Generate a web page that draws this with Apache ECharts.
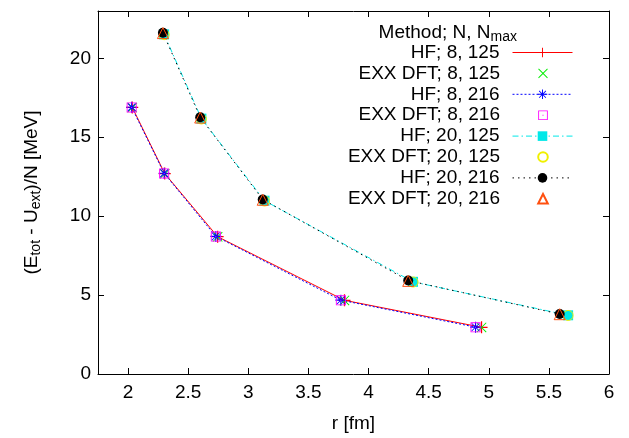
<!DOCTYPE html>
<html><head><meta charset="utf-8">
<script src="https://cdn.jsdelivr.net/npm/echarts@6/dist/echarts.min.js"></script>
<style>html,body{margin:0;padding:0;background:#fff}#c{width:629px;height:438px}</style>
</head><body><div id="c"></div>
<script>
// ---- data ----
const seriesNames = ['HF; 8, 125','EXX DFT; 8, 125','HF; 8, 216','EXX DFT; 8, 216','HF; 20, 125','EXX DFT; 20, 125','HF; 20, 216','EXX DFT; 20, 216'];
const r_8_125   = [2.035, 2.305, 2.745, 3.80, 4.94];
const hf_8_125  = [16.89, 12.70, 8.70, 4.67, 2.96];
const exx_8_125 = [16.88, 12.69, 8.69, 4.66, 2.95];
const r_8_216   = [2.03, 2.30, 2.73, 3.77, 4.89];
const hf_8_216  = [16.90, 12.72, 8.72, 4.68, 2.97];
const exx_8_216 = [16.89, 12.71, 8.71, 4.67, 2.96];
const r_20_125   = [2.30, 2.61, 3.135, 4.37, 5.66];
const hf_20_125  = [21.52, 16.18, 10.98, 5.84, 3.72];
const exx_20_125 = [21.50, 16.16, 10.96, 5.83, 3.71];
const r_20_216   = [2.29, 2.60, 3.12, 4.33, 5.59];
const hf_20_216  = [21.62, 16.27, 11.06, 5.92, 3.80];
const exx_20_216 = [21.60, 16.25, 11.04, 5.90, 3.79];
const xTicks = [2, 2.5, 3, 3.5, 4, 4.5, 5, 5.5, 6];
const yTicks = [0, 5, 10, 15, 20];

const FONT = 'Liberation Sans';
const FS = 19;
const pair = (xs, ys) => xs.map((x, i) => [x, ys[i]]);

const SYM_PLUS = 'path://M-0.6,-6H0.6V6H-0.6Z M-6,-0.6H6V0.6H-6Z';
const SYM_CROSS = 'path://M-6,-5.2L-5.2,-6L6,5.2L5.2,6Z M6,-5.2L-5.2,6L-6,5.2L5.2,-6Z';
const SYM_STAR = 'path://M-0.6,-6H0.6V6H-0.6Z M-6,-0.6H6V0.6H-6Z M-4.6,-3.9L-3.9,-4.6L4.6,3.9L3.9,4.6Z M4.6,-3.9L-3.9,4.6L-4.6,3.9L3.9,-4.6Z';
const SYM_OSQ = 'path://M-5,-5H5V5H-5Z M-4.1,-4.1V4.1H4.1V-4.1Z M-0.5,-0.5H0.5V0.5H-0.5Z';

const seriesDefs = [
  {data: pair(r_8_125, hf_8_125), color: '#ff0000', symbol: SYM_PLUS, size: 12, line: 'solid'},
  {data: pair(r_8_125, exx_8_125), color: '#00ee00', symbol: SYM_CROSS, size: 10, line: null},
  {data: pair(r_8_216, hf_8_216), color: '#0000ff', symbol: SYM_STAR, size: 11, line: [2, 2]},
  {data: pair(r_8_216, exx_8_216), color: '#ff00ff', symbol: SYM_OSQ, size: 10, line: null},
  {data: pair(r_20_125, hf_20_125), color: '#00e8e8', symbol: 'rect', size: 10, line: [6, 3, 1.5, 3]},
  {data: pair(r_20_125, exx_20_125), color: '#f0f000', symbol: 'circle', size: 10, line: null, open: true},
  {data: pair(r_20_216, hf_20_216), color: '#000000', symbol: 'circle', size: 10, line: [1.5, 4]},
  {data: pair(r_20_216, exx_20_216), color: '#ff5010', symbol: 'triangle', size: 11, line: null, open: true}
];

const series = seriesDefs.map((d, i) => ({
  name: seriesNames[i],
  type: 'line',
  data: d.data,
  symbol: d.symbol,
  symbolSize: d.size,
  showSymbol: true,
  animation: false,
  lineStyle: d.line ? {color: d.color, width: 1, type: d.line} : {width: 0, opacity: 0},
  itemStyle: d.open ? {color: 'rgba(0,0,0,0)', borderColor: d.color, borderWidth: 1} : {color: d.color, borderWidth: 0},
  emphasis: {disabled: true}
}));

const legends = seriesNames.map((n, i) => {
  const lg = {
    data: [n],
    orient: 'vertical',
    right: 56,
    top: 43 + i * 20.9,
    padding: 0,
    align: 'right',
    itemWidth: 60,
    itemHeight: 12,
    selectedMode: false,
    textStyle: {fontFamily: FONT, fontSize: FS, color: '#000', padding: [0, 8, 0, 0]}
  };
  if (seriesDefs[i].line) lg.lineStyle = {width: 1};
  return lg;
});

const axisCommon = {
  type: 'value',
  axisLine: {show: true, onZero: false, lineStyle: {color: '#000', width: 1}},
  axisTick: {show: true, inside: true, length: 6, lineStyle: {color: '#000'}},
  splitLine: {show: false}
};

const chart = echarts.init(document.getElementById('c'), null, {renderer: 'canvas'});
chart.setOption({
  animation: false,
  backgroundColor: '#fff',
  title: {
    text: '{a|Method; N, N}{s|max}',
    right: 112, top: 22, padding: 0,
    textStyle: {fontWeight: 'normal', rich: {
      a: {fontFamily: FONT, fontSize: FS, fontWeight: 'normal', color: '#000', lineHeight: 22},
      s: {fontFamily: FONT, fontSize: 14, fontWeight: 'normal', color: '#000', lineHeight: 12, verticalAlign: 'bottom'}
    }}
  },
  legend: legends,
  grid: {left: 98, right: 20, top: 11, bottom: 61, containLabel: false},
  xAxis: [
    Object.assign({}, axisCommon, {
      position: 'bottom', min: 1.75, max: 6,
      axisTick: Object.assign({}, axisCommon.axisTick, {customValues: xTicks}),
      axisLabel: {customValues: xTicks, fontFamily: FONT, fontSize: FS, color: '#000', margin: 9},
      name: 'r [fm]', nameLocation: 'middle', nameGap: 40,
      nameTextStyle: {fontFamily: FONT, fontSize: FS, color: '#000'}
    }),
    Object.assign({}, axisCommon, {
      position: 'top', min: 1.75, max: 6,
      axisTick: Object.assign({}, axisCommon.axisTick, {customValues: xTicks}),
      axisLabel: {show: false}
    })
  ],
  yAxis: [
    Object.assign({}, axisCommon, {
      position: 'left', min: 0, max: 23,
      axisTick: Object.assign({}, axisCommon.axisTick, {customValues: yTicks}),
      axisLabel: {customValues: yTicks, fontFamily: FONT, fontSize: FS, color: '#000', margin: 7},
      name: '{n|(E}{b|tot}{n| - U}{b|ext}{n|)/N [MeV]}',
      nameLocation: 'middle', nameGap: 55,
      nameTextStyle: {rich: {
        n: {fontFamily: FONT, fontSize: FS, color: '#000', lineHeight: 22},
        b: {fontFamily: FONT, fontSize: 14, color: '#000', lineHeight: 10, verticalAlign: 'bottom'}
      }}
    }),
    Object.assign({}, axisCommon, {
      position: 'right', min: 0, max: 23,
      axisTick: Object.assign({}, axisCommon.axisTick, {customValues: yTicks}),
      axisLabel: {show: false}
    })
  ],
  series: series
});
</script></body></html>
